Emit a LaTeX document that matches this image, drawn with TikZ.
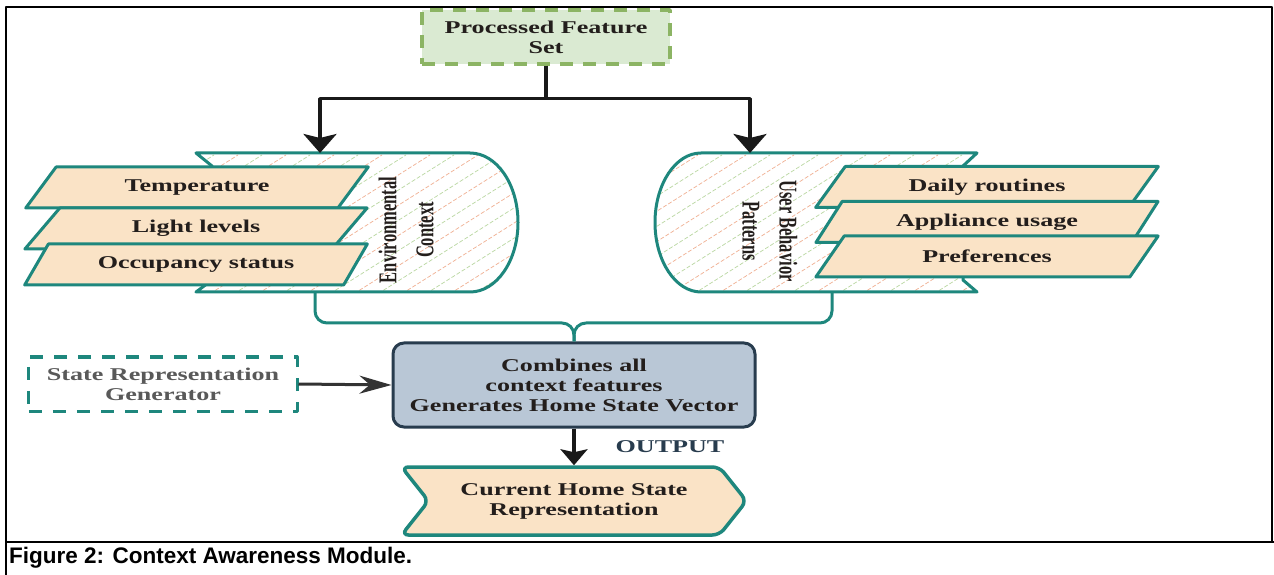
\documentclass[tikz,border=0pt]{standalone}
\usepackage{fontspec}
\usetikzlibrary{shapes.geometric,shapes.symbols,arrows.meta}
\newfontfamily\figfont{Liberation Serif}[FakeStretch=1.45]
\newfontfamily\sidefont{Liberation Serif}
\newfontfamily\capfont{Liberation Sans}
\definecolor{tealline}{RGB}{30,135,125}
\definecolor{peach}{RGB}{250,227,198}
\definecolor{sage}{RGB}{218,234,210}
\definecolor{sagedash}{RGB}{140,180,100}
\definecolor{slatefill}{RGB}{185,199,214}
\definecolor{slateline}{RGB}{40,60,78}
\definecolor{hatchA}{RGB}{240,175,145}
\definecolor{hatchB}{RGB}{185,215,160}
\definecolor{inktext}{RGB}{35,30,28}
\begin{document}
\begin{tikzpicture}[x=1bp,y=-1bp,line join=round,
  boxtext/.style={font=\figfont\bfseries\fontsize{18bp}{20bp}\selectfont,text=inktext,align=center},
  para/.style={boxtext,trapezium,trapezium left angle=45,trapezium right angle=135,
    trapezium stretches=true,minimum width=343bp,minimum height=41bp,inner sep=0pt,
    fill=peach,draw=tealline,line width=3bp},
  sidelabel/.style={font=\sidefont\bfseries\fontsize{16.5bp}{19bp}\selectfont,text=inktext,inner sep=0pt},
  hatch/.style={dash pattern=on 4bp off 2bp,line width=0.7bp},
  feed/.style={line width=3.5bp,draw=black!90,-{Stealth[length=19bp,width=33bp,inset=4bp]}},
  brace/.style={draw=tealline,line width=3bp,rounded corners=12bp},
]
  \useasboundingbox (0,0) rectangle (1274,575);
%%
  % frame and caption
  \draw[line width=2.5bp] (6,575) -- (6,7) -- (1272,7) -- (1272,542);
  \draw[line width=2.5bp] (6,542) -- (1274,542);
  \node (cap) [anchor=west,font=\capfont\bfseries\fontsize{22.5bp}{25bp}\selectfont,inner sep=0pt]
    at (9,558) {Figure 2: Context Awareness Module.};
%%
  % Node: env (environmental context)
\begin{scope}
  \clip (196,153) -- (470,153) .. controls (496.5,153) and (518,184.1) .. (518,222.5)
    .. controls (518,260.9) and (496.5,292) .. (470,292) -- (196,292) -- (212,280) -- (212,166) -- cycle;
  \fill[white] (190,150) rectangle (520,295);
  \foreach \k in {-40,8,...,520}
    \draw[hatch,hatchA] (\k,300) -- ++(230,-145);
  \foreach \k in {-16,32,...,520}
    \draw[hatch,hatchB] (\k,300) -- ++(230,-145);
\end{scope}
  \draw[tealline,line width=3bp] (196,153) -- (470,153) .. controls (496.5,153) and (518,184.1) .. (518,222.5)
    .. controls (518,260.9) and (496.5,292) .. (470,292) -- (196,292) -- (212,280) -- (212,166) -- cycle;
  \node (envlbl) [sidelabel,rotate=90] at (409,230)
    {\scalebox{1}[1.55]{\begin{tabular}{@{}c@{}}Environmental\\[5bp]Context\end{tabular}}};
  \coordinate (envtop) at (320,153);
  \coordinate (envfoot) at (315,292);
%%
  % Node: ubp (user behavior patterns)
\begin{scope}
  \clip (977,153) -- (701,153) .. controls (675.6,153) and (655,184.1) .. (655,222.5)
    .. controls (655,260.9) and (675.6,292) .. (701,292) -- (977,292) -- (963,280) -- (963,166) -- cycle;
  \fill[white] (650,150) rectangle (980,295);
  \foreach \k in {420,468,...,980}
    \draw[hatch,hatchA] (\k,300) -- ++(230,-145);
  \foreach \k in {444,492,...,980}
    \draw[hatch,hatchB] (\k,300) -- ++(230,-145);
\end{scope}
  \draw[tealline,line width=3bp] (977,153) -- (701,153) .. controls (675.6,153) and (655,184.1) .. (655,222.5)
    .. controls (655,260.9) and (675.6,292) .. (701,292) -- (977,292) -- (963,280) -- (963,166) -- cycle;
  \node (ubplbl) [sidelabel,rotate=-90] at (767,231)
    {\scalebox{1}[1.55]{\begin{tabular}{@{}c@{}}User Behavior\\[5bp]Patterns\end{tabular}}};
  \coordinate (ubptop) at (750,153);
  \coordinate (ubpfoot) at (832,292);
%%
  % Nodes: feature items
  \node (temp)  [para] at (197,187.5) {Temperature};
  \node (light) [para] at (196,228.5) {Light levels};
  \node (occ)   [para] at (196,264.5) {Occupancy status};
  \node (daily) [para] at (987,187)   {Daily routines};
  \node (appl)  [para] at (987,222)   {Appliance usage};
  \node (pref)  [para] at (987,256.5) {Preferences};
%%
  % Node: pfs
  \node (pfs) [boxtext,draw=sagedash,fill=sage,dash pattern=on 13bp off 10bp,line width=3.5bp,
    minimum width=248bp,minimum height=54bp] at (546,37) {Processed Feature\\Set};
  % Node: comb
  \node (comb) [boxtext,draw=slateline,fill=slatefill,line width=3bp,rounded corners=11bp,
    minimum width=362bp,minimum height=84bp] at (574,385)
    {Combines all\\context features\\Generates Home State Vector};
  % Node: srg
  \node (srg) [boxtext,text=black!65,draw=tealline,dash pattern=on 13bp off 11bp,line width=3bp,
    minimum width=268bp,minimum height=54bp] at (163,384) {State Representation\\Generator};
  % Node: cur
  \node (cur) [boxtext,signal,signal to=east,signal from=west,signal pointer angle=103,
    minimum width=345bp,minimum height=68bp,fill=peach,draw=tealline,line width=3.5bp,
    rounded corners=7bp] at (574,501) {Current Home State\\Representation};
  \node (outlbl) [boxtext,text=slateline] at (670,447) {OUTPUT};
%%
  % Edge: pfs -> env, pfs -> ubp
  \draw[feed] (pfs.south) -- ++(0,33) -| (envtop);
  \draw[feed] (pfs.south) -- ++(0,33) -| (ubptop);
  % Edge: env, ubp -> comb
  \coordinate (join) at (574,323);
  \draw[brace] (envfoot) |- (join) -- (comb.north);
  \draw[brace] (ubpfoot) |- (join) -- (comb.north);
  % Edge: srg -> comb
  \draw[line width=3bp,draw=black!80,-{Stealth[length=32bp,width=18bp]}] (srg.east) -- (comb.west);
  % Edge: comb -> cur
  \draw[line width=3.5bp,draw=black!90,-{Stealth[length=16bp,width=27bp,inset=3bp]}] (comb.south) -- (cur.north);
%
\end{tikzpicture}
\end{document}
